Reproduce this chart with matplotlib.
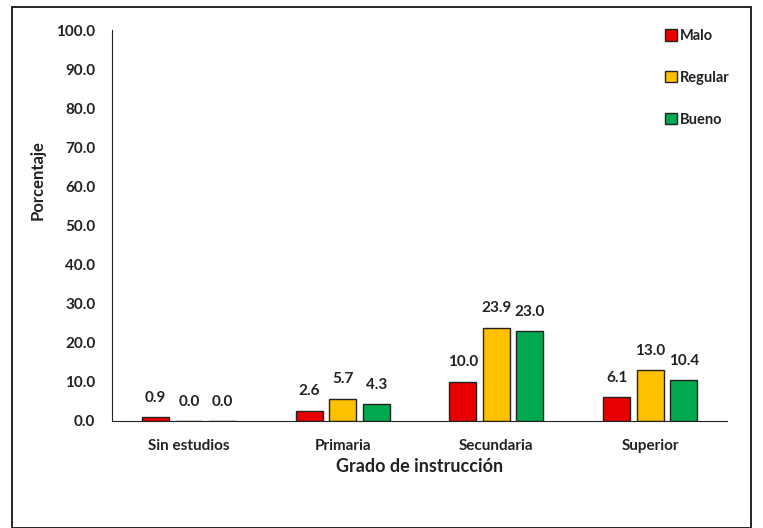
import matplotlib
matplotlib.use("Agg")
import matplotlib.pyplot as plt
import numpy as np
from matplotlib.patches import Rectangle

categories = ["Sin estudios", "Primaria", "Secundaria", "Superior"]
series_names = ["Malo", "Regular", "Bueno"]
malo = [0.9, 2.6, 10.0, 6.1]
regular = [0.0, 5.7, 23.9, 13.0]
bueno = [0.0, 4.3, 23.0, 10.4]
colors = ["#E80000", "#FFC000", "#00A84F"]
yticks = [0, 10, 20, 30, 40, 50, 60, 70, 80, 90, 100]

plt.rcParams['font.family'] = ['Lato', 'DejaVu Sans']
plt.rcParams['font.weight'] = 'bold'

fig = plt.figure(figsize=(7.63, 5.28), dpi=100)
ax = fig.add_axes([112/763, 1-421/528, (727-112)/763, (421-30)/528])

x = np.arange(len(categories))
width = 0.176
step = 0.218
for k, (vals, name, col) in enumerate(zip([malo, regular, bueno], series_names, colors)):
    xs = x + (k - 1) * step
    ax.bar(xs, vals, width, color=col, edgecolor="#222222", linewidth=1.0, label=name)
    for xi, v in zip(xs, vals):
        ax.annotate(f"{v:.1f}", (xi, v), xytext=(0, 9), textcoords="offset points",
                    ha="center", va="bottom", fontsize=11, fontweight="bold", color="#222222")

ax.set_xlim(-0.5, 3.5)
ax.set_ylim(0, 100)
ax.set_yticks(yticks)
ax.set_yticklabels([f"{t:.1f}" for t in yticks])
ax.set_xticks(x)
ax.set_xticklabels(categories)
ax.tick_params(axis="both", length=0, labelsize=11, colors="#222222")
ax.tick_params(axis="y", pad=12)
ax.tick_params(axis="x", pad=13)
for lab in ax.get_xticklabels() + ax.get_yticklabels():
    lab.set_fontweight("bold")
ax.spines["top"].set_visible(False)
ax.spines["right"].set_visible(False)
ax.spines["left"].set_color("#222222")
ax.spines["bottom"].set_color("#222222")

fig.text((112+727)/2/763, 1-467/528, "Grado de instrucción", ha="center", va="center",
         fontsize=13, fontweight="bold", color="#222222")
fig.text(38/763, 1-180/528, "Porcentaje", ha="center", va="center", rotation=90,
         fontsize=12, fontweight="bold", color="#222222")

leg = ax.legend(loc="upper left", bbox_to_anchor=(652/763, 1-16/528), bbox_transform=fig.transFigure,
                frameon=False, fontsize=10.5, handlelength=0.8, handleheight=0.8,
                handletextpad=0.2, labelspacing=1.9)
for t in leg.get_texts():
    t.set_fontweight("bold")
    t.set_color("#222222")

fig.patches.append(Rectangle((12/763, 0), (751-12)/763, 1-7/528, transform=fig.transFigure,
                             fill=False, edgecolor="black", linewidth=1.2))

fig.savefig("out.png", dpi=100)
